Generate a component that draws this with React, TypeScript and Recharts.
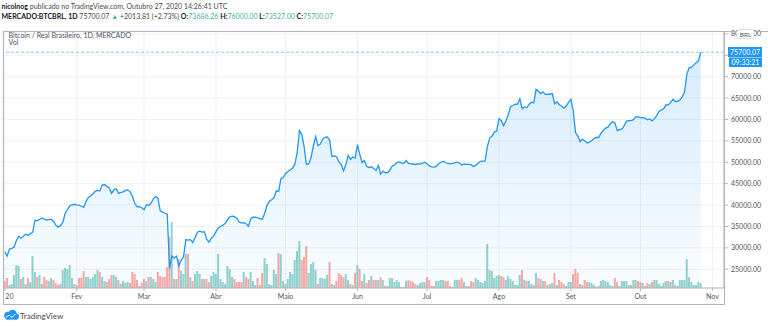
import React from 'react';
import { ComposedChart, Area, Line, Bar, XAxis, YAxis, CartesianGrid, ReferenceLine, Cell } from 'recharts';

// Daily closes BTC/BRL, 2020-01-01 .. 2020-10-27 (day index = position)
const closes: number[] = [
  29100, 28100, 29720, 29900, 30200, 31800, 32740, 32270, 32740, 33200,
  32970, 33330, 33670, 36470, 36350, 36700, 37000, 36700, 36470, 36580,
  36700, 36230, 35300, 34900, 35190, 36000, 38090, 39020, 39840, 40070,
  40190, 40070, 40000, 39720, 39490, 40880, 41810, 42160, 42670, 43210,
  43440, 43330, 44720, 44770, 44370, 44020, 42740, 43560, 43840, 42740,
  42980, 43090, 43440, 43560, 43090, 42050, 40420, 39600, 39650, 39370,
  38910, 40070, 39950, 40420, 41460, 42050, 41580, 38670, 38370, 38090,
  37860, 25300, 28090, 27630, 28090, 25770, 27160, 27860, 31930, 31810,
  31930, 31230, 32400, 33670, 33910, 33670, 33790, 32050, 31350, 32280,
  32740, 33790, 34600, 35070, 35300, 35770, 36580, 37280, 37400, 37280,
  36930, 36000, 35840, 35880, 35650, 35070, 36820, 37160, 37160, 37000,
  36860, 36700, 38090, 39950, 40880, 41230, 41700, 43330, 43210, 46120,
  46470, 47400, 47860, 48210, 48670, 49490, 52280, 57400, 56470, 53670,
  49490, 49600, 51120, 53910, 56000, 53910, 54260, 55420, 55840, 55900,
  55190, 51350, 51500, 51300, 50070, 49490, 47980, 49490, 51580, 50650,
  51230, 51000, 54140, 51810, 49950, 50420, 49020, 48790, 48950, 48560,
  48090, 49260, 47250, 47950, 47560, 47600, 48190, 49140, 49370, 49950,
  50070, 49790, 49750, 50420, 49720, 49650, 49600, 49490, 49600, 49650,
  49720, 50000, 49650, 49140, 48910, 48860, 49020, 49650, 50020, 50260,
  49950, 49720, 49650, 49770, 49880, 50020, 49840, 49370, 49600, 49490,
  49500, 49450, 49020, 49260, 49840, 50190, 50260, 50300, 53670, 55650,
  56120, 57050, 57280, 60190, 59720, 58560, 59720, 61120, 63020, 63260,
  63560, 63610, 64840, 62510, 62980, 62740, 63560, 64020, 63900, 67050,
  66580, 66050, 66470, 65810, 65930, 65900, 66070, 63670, 64140, 63440,
  63090, 62630, 63210, 64020, 64720, 62050, 56930, 56120, 54840, 55420,
  55000, 54490, 54720, 55070, 55540, 55840, 55770, 56810, 57510, 57980,
  58210, 59020, 59490, 59140, 57400, 57630, 57790, 58560, 59600, 59720,
  59750, 59950, 60650, 60600, 60420, 60450, 60300, 59950, 60120, 59650,
  60190, 60880, 61930, 62210, 62510, 63440, 63400, 63980, 64720, 64210,
  64250, 64600, 65300, 66470, 70650, 72050, 72210, 72750, 73280, 73686.26,
  75700.07,
];

// Daily volume (BTC, approximate)
const volumes: number[] = [
  7, 10, 3, 4, 13, 23, 22, 9, 11, 4,
  10, 6, 32, 16, 11, 13, 4, 11, 8, 7,
  10, 8, 5, 3, 4, 18, 20, 19, 23, 10,
  4, 3, 10, 10, 17, 11, 11, 9, 11, 14,
  18, 16, 11, 7, 6, 9, 13, 13, 11, 8,
  4, 7, 5, 6, 5, 16, 14, 8, 2, 5,
  9, 7, 11, 11, 9, 6, 16, 12, 11, 11,
  21, 51, 66, 9, 9, 29, 17, 14, 34, 34,
  11, 7, 14, 17, 14, 9, 9, 9, 6, 12,
  16, 14, 34, 9, 6, 4, 22, 19, 11, 9,
  6, 6, 6, 16, 11, 9, 16, 7, 3, 10,
  3, 15, 30, 24, 4, 3, 18, 14, 35, 34,
  7, 4, 9, 16, 14, 28, 37, 47, 28, 31,
  42, 15, 24, 26, 18, 4, 10, 10, 9, 13,
  26, 4, 3, 7, 15, 13, 11, 14, 8, 4,
  3, 15, 23, 19, 7, 14, 5, 8, 12, 8,
  8, 8, 11, 8, 2, 2, 10, 10, 6, 8,
  6, 1, 1, 7, 8, 7, 6, 4, 3, 5,
  6, 6, 11, 8, 2, 2, 7, 7, 8, 8,
  7, 7, 2, 1, 8, 8, 8, 10, 6, 2,
  2, 7, 6, 10, 8, 6, 5, 7, 44, 18,
  17, 10, 12, 13, 12, 11, 8, 12, 9, 7,
  3, 3, 13, 18, 8, 7, 7, 4, 3, 15,
  10, 9, 7, 7, 3, 4, 5, 15, 3, 8,
  6, 4, 2, 6, 6, 14, 19, 15, 4, 3,
  8, 6, 6, 5, 3, 1, 2, 7, 8, 7,
  6, 3, 2, 10, 6, 2, 7, 7, 7, 3,
  3, 8, 8, 7, 6, 5, 2, 5, 4, 6,
  8, 8, 4, 2, 5, 7, 7, 6, 8, 3,
  2, 8, 8, 8, 29, 11, 6, 3, 3, 6,
  5,
];

const monthTicks = [0, 31, 60, 91, 121, 152, 182, 213, 244, 274, 305];
const monthLabels = ['20', 'Fev', 'Mar', 'Abr', 'Maio', 'Jun', 'Jul', 'Ago', 'Set', 'Out', 'Nov'];
const priceTicks = [25000, 30000, 35000, 40000, 45000, 50000, 55000, 60000, 65000, 70000, 75000, 80000];
const hiddenPriceLabels = [75000];
const lastPrice = 75700.07;
const lastTime = '09:33:21';

const data = closes.map((c, i) => ({
  day: i,
  close: c,
  vol: volumes[i],
  up: i === 0 ? false : c >= closes[i - 1],
}));

const TEXT = '#50535e';
const BORDER = '#b2b5be';
const TEAL = '#45b0a2';

const XTick = (props: any) => {
  const { x, y, payload } = props;
  const idx = monthTicks.indexOf(payload.value);
  const first = payload.value === 0;
  return (
    <text x={first ? x + 0.5 : x} y={y} dy={6} textAnchor={first ? 'start' : 'middle'} fontSize={7} fill={TEXT}>
      {monthLabels[idx]}
    </text>
  );
};

export default function App() {
  return (
    <div style={{ position: 'absolute', left: 0, top: 0, width: 768, height: 326, background: '#fff', fontFamily: 'Lato, "Noto Sans", sans-serif' }}>
      <ComposedChart width={768} height={326} data={data} margin={{ top: 31, right: 0, bottom: 22, left: 3 }}>
        <defs>
          <linearGradient id="areaFill" x1="0" y1="0" x2="0" y2="1">
            <stop offset="0%" stopColor="#2196f3" stopOpacity={0.3} />
            <stop offset="100%" stopColor="#2196f3" stopOpacity={0.04} />
          </linearGradient>
        </defs>
        <CartesianGrid yAxisId="price" stroke="#eef1f6" />
        <XAxis
          dataKey="day"
          type="number"
          domain={[-0.8, 310]}
          ticks={monthTicks}
          interval={0}
          height={16}
          allowDataOverflow
          stroke={BORDER}
          tickSize={3}
          tickMargin={2}
          tick={<XTick />}
        />
        <YAxis
          yAxisId="price"
          orientation="right"
          domain={[20630, 80670]}
          ticks={priceTicks}
          interval={0}
          allowDataOverflow
          width={44}
          stroke={BORDER}
          tickSize={4}
          tickMargin={3}
          tickFormatter={(v: number) => (hiddenPriceLabels.includes(v) ? '' : v.toFixed(2))}
          tick={{ fontSize: 7, fill: TEXT }}
        />
        <YAxis yAxisId="vol" hide domain={[0, 257]} />
        <Area yAxisId="price" dataKey="close" type="linear" stroke="none" fill="url(#areaFill)" isAnimationActive={false} />
        <Bar yAxisId="vol" dataKey="vol" barSize={2} isAnimationActive={false}>
          {data.map((d, i) => (
            <Cell key={i} fill={d.up ? '#26a69a' : '#ef5350'} fillOpacity={0.5} />
          ))}
        </Bar>
        <ReferenceLine yAxisId="price" y={lastPrice} stroke="#8fc7f4" strokeDasharray="3 2" />
        <Line yAxisId="price" dataKey="close" type="linear" stroke="#2196f3" strokeWidth={1.3} dot={false} isAnimationActive={false} />
      </ComposedChart>

      <svg width={768} height={326} style={{ position: 'absolute', left: 0, top: 0, pointerEvents: 'none' }}>
        {/* header */}
        <text x={1.5} y={8.5} fontSize={7} fill="#131722">
          <tspan fontWeight="bold">nicolnog</tspan>
          <tspan fill="#4a4a4a"> publicado no TradingView.com, Outubro 27, 2020 14:26:41 UTC</tspan>
        </text>
        <text x={1.5} y={18.5} fontSize={7} fill="#131722">
          <tspan fontWeight="bold">MERCADO:BTCBRL, 1D</tspan>
          <tspan fill="#4a4a4a"> 75700.07 </tspan>
          <tspan fill={TEAL}>▲</tspan>
          <tspan fill="#4a4a4a"> +2013.81 (+2.73%) </tspan>
          <tspan fontWeight="bold">O:</tspan>
          <tspan fill={TEAL}>73686.26 </tspan>
          <tspan fontWeight="bold">H:</tspan>
          <tspan fill={TEAL}>76000.00 </tspan>
          <tspan fontWeight="bold">L:</tspan>
          <tspan fill={TEAL}>73527.00 </tspan>
          <tspan fontWeight="bold">C:</tspan>
          <tspan fill={TEAL}>75700.07</tspan>
        </text>
        {/* legend */}
        <text x={8.5} y={37.5} fontSize={7} fill="#4c525e">Bitcoin / Real Brasileiro, 1D, MERCADO</text>
        <text x={8.5} y={45} fontSize={7} fill="#4c525e">Vol</text>

        {/* borders */}
        <line x1={3} y1={31.5} x2={768} y2={31.5} stroke={BORDER} strokeWidth={1} />
        <line x1={3.5} y1={31} x2={3.5} y2={304.5} stroke={BORDER} strokeWidth={1} />
        <line x1={724.5} y1={31} x2={724.5} y2={304.5} stroke={BORDER} strokeWidth={1} />
        <line x1={3} y1={304.5} x2={725} y2={304.5} stroke={BORDER} strokeWidth={1} />

        {/* BRL box */}
        <rect x={737} y={29.5} width={17} height={9} rx={2} fill="#fff" stroke="#d1d4dc" strokeWidth={0.8} />
        <text x={745.5} y={36.5} fontSize={6.5} fill={TEXT} textAnchor="middle">BRL</text>

        {/* last price labels */}
        <rect x={728} y={47} width={34} height={10} fill="#2196f3" />
        <text x={745} y={54.6} fontSize={7} fill="#fff" textAnchor="middle">{lastPrice.toFixed(2)}</text>
        <rect x={729} y={57.5} width={33} height={9.5} fill="#2196f3" />
        <text x={745.5} y={64.8} fontSize={7} fill="#fff" textAnchor="middle">{lastTime}</text>

        {/* TradingView logo */}
        <g>
          <circle cx={8} cy={315.5} r={3.8} fill="#2196f3" />
          <circle cx={12.5} cy={314} r={4.2} fill="#2196f3" />
          <circle cx={16} cy={316.5} r={3} fill="#2196f3" />
          <rect x={6} y={316} width={11} height={3.6} fill="#2196f3" />
          <polyline points="6,317.5 9,315 12,317.5 15.5,314" fill="none" stroke="#fff" strokeWidth={1} />
        </g>
        <text x={20} y={318.5} fontSize={8} fill="#4a4a4a">TradingView</text>
      </svg>
    </div>
  );
}
